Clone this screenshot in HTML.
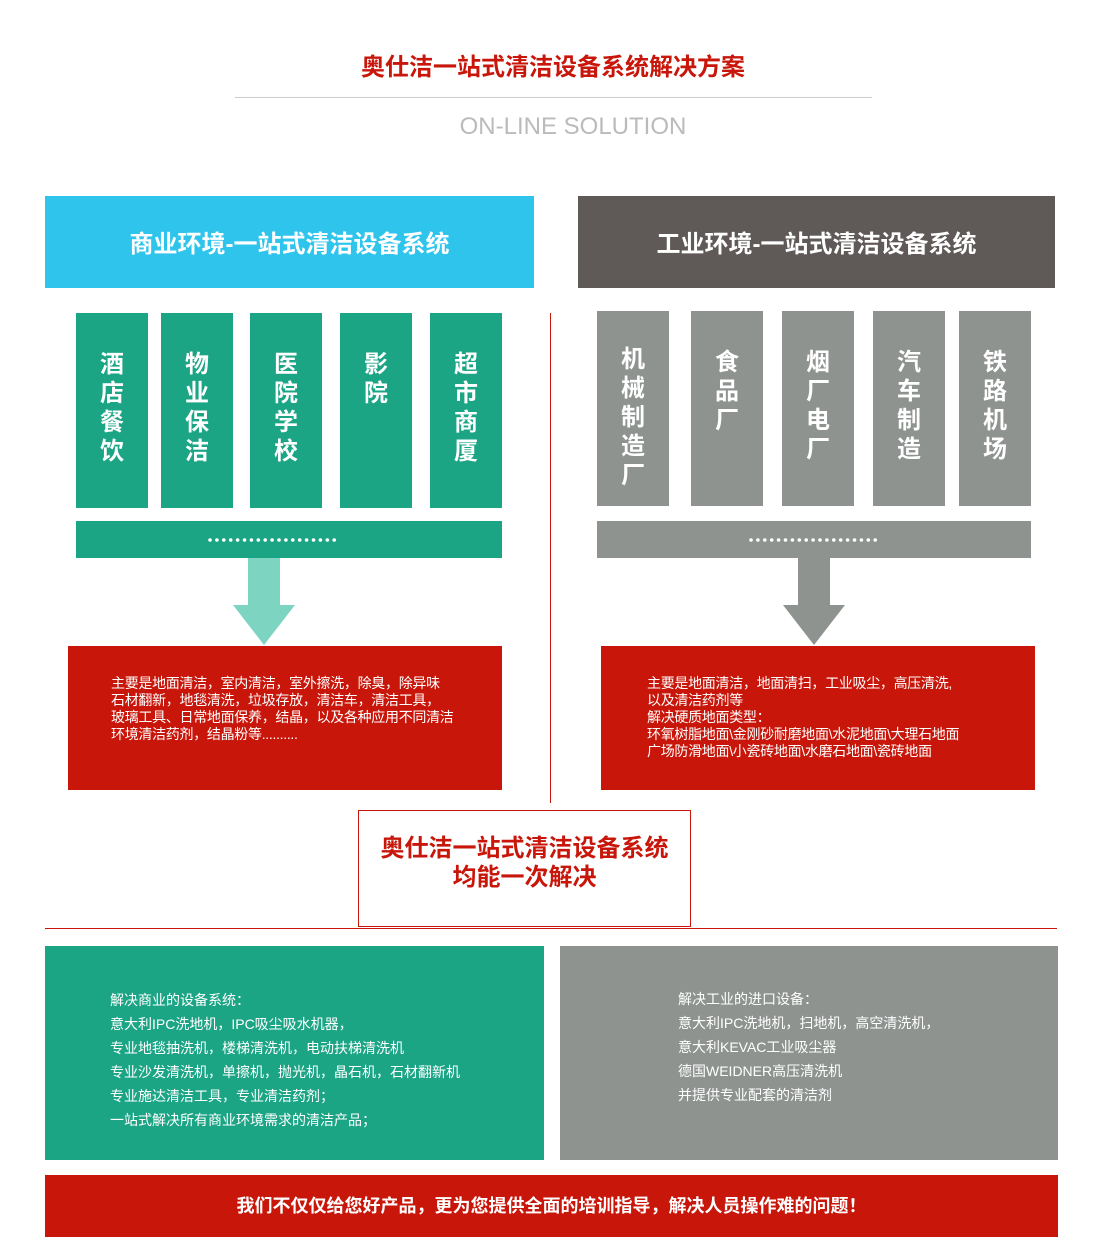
<!DOCTYPE html>
<html><head><meta charset="utf-8"><style>
*{margin:0;padding:0;box-sizing:border-box}
body{width:1113px;height:1241px;background:#fff;position:relative;font-family:"Liberation Sans","Noto Sans CJK SC",sans-serif;overflow:hidden}
.a{position:absolute}
.col{position:absolute;color:#fff;font-weight:bold;font-size:24px;line-height:29px;text-align:center;padding-top:37px}
.g{background:#1ba585}.gr{background:#8e9390}
.t{color:#fff;font-size:14px;line-height:17px;letter-spacing:-0.3px}
.b{color:#fff;font-size:14px;line-height:24px}
</style></head><body>
<div class="a" style="left:0;width:1106px;top:53px;text-align:center;color:#c8160a;font-weight:bold;font-size:24px;line-height:30px">奥仕洁一站式清洁设备系统解决方案</div>
<div class="a" style="left:235px;width:637px;top:97px;height:1px;background:#ccc"></div>
<div class="a" style="left:0;width:1146px;top:113px;text-align:center;color:#bbb;font-size:24px;line-height:28px">ON-LINE SOLUTION</div>

<div class="a" style="left:45px;top:196px;width:489px;height:92px;background:#2fc4ec;color:#fff;font-weight:bold;font-size:24px;line-height:98px;text-align:center">商业环境-一站式清洁设备系统</div>
<div class="a" style="left:578px;top:196px;width:477px;height:92px;background:#5f5958;color:#fff;font-weight:bold;font-size:24px;line-height:98px;text-align:center">工业环境-一站式清洁设备系统</div>

<div class="col g" style="left:76px;top:313px;width:72px;height:195px">酒<br>店<br>餐<br>饮</div>
<div class="col g" style="left:161px;top:313px;width:72px;height:195px">物<br>业<br>保<br>洁</div>
<div class="col g" style="left:250px;top:313px;width:72px;height:195px">医<br>院<br>学<br>校</div>
<div class="col g" style="left:340px;top:313px;width:72px;height:195px;padding-left:-4px">影<br>院</div>
<div class="col g" style="left:430px;top:313px;width:72px;height:195px">超<br>市<br>商<br>厦</div>
<div class="a g" style="left:76px;top:521px;width:426px;height:37px"></div>

<div class="col gr" style="left:597px;top:311px;width:72px;height:195px;padding-top:34px">机<br>械<br>制<br>造<br>厂</div>
<div class="col gr" style="left:691px;top:311px;width:72px;height:195px">食<br>品<br>厂</div>
<div class="col gr" style="left:782px;top:311px;width:72px;height:195px">烟<br>厂<br>电<br>厂</div>
<div class="col gr" style="left:873px;top:311px;width:72px;height:195px">汽<br>车<br>制<br>造</div>
<div class="col gr" style="left:959px;top:311px;width:72px;height:195px">铁<br>路<br>机<br>场</div>
<div class="a gr" style="left:597px;top:521px;width:434px;height:37px"></div>

<svg class="a" style="left:0;top:0" width="1113" height="1241">
<polygon points="248,558 280,558 280,605 295,605 264,645 233,605 248,605" fill="#7dd4c0"/>
<polygon points="798,558 830,558 830,605 845,605 814,645 783,605 798,605" fill="#8e9390"/>
<line x1="550.5" y1="313" x2="550.5" y2="803" stroke="#c8160a" stroke-width="1"/>
<line x1="45" y1="928.5" x2="1057" y2="928.5" stroke="#c8160a" stroke-width="1"/>
<g fill="#fff">
<circle cx="210" cy="540" r="1.8"/><circle cx="216.9" cy="540" r="1.8"/><circle cx="223.8" cy="540" r="1.8"/><circle cx="230.7" cy="540" r="1.8"/><circle cx="237.6" cy="540" r="1.8"/><circle cx="244.5" cy="540" r="1.8"/><circle cx="251.4" cy="540" r="1.8"/><circle cx="258.3" cy="540" r="1.8"/><circle cx="265.2" cy="540" r="1.8"/><circle cx="272.1" cy="540" r="1.8"/><circle cx="279" cy="540" r="1.8"/><circle cx="285.9" cy="540" r="1.8"/><circle cx="292.8" cy="540" r="1.8"/><circle cx="299.7" cy="540" r="1.8"/><circle cx="306.6" cy="540" r="1.8"/><circle cx="313.5" cy="540" r="1.8"/><circle cx="320.4" cy="540" r="1.8"/><circle cx="327.3" cy="540" r="1.8"/><circle cx="334.2" cy="540" r="1.8"/>
<circle cx="751" cy="540" r="1.8"/><circle cx="757.9" cy="540" r="1.8"/><circle cx="764.8" cy="540" r="1.8"/><circle cx="771.7" cy="540" r="1.8"/><circle cx="778.6" cy="540" r="1.8"/><circle cx="785.5" cy="540" r="1.8"/><circle cx="792.4" cy="540" r="1.8"/><circle cx="799.3" cy="540" r="1.8"/><circle cx="806.2" cy="540" r="1.8"/><circle cx="813.1" cy="540" r="1.8"/><circle cx="820" cy="540" r="1.8"/><circle cx="826.9" cy="540" r="1.8"/><circle cx="833.8" cy="540" r="1.8"/><circle cx="840.7" cy="540" r="1.8"/><circle cx="847.6" cy="540" r="1.8"/><circle cx="854.5" cy="540" r="1.8"/><circle cx="861.4" cy="540" r="1.8"/><circle cx="868.3" cy="540" r="1.8"/><circle cx="875.2" cy="540" r="1.8"/>
</g>
</svg>

<div class="a" style="left:68px;top:646px;width:434px;height:144px;background:#c8160a"></div>
<div class="a t" style="left:111px;top:675px">主要是地面清洁，室内清洁，室外擦洗，除臭，除异味<br>石材翻新，地毯清洗，垃圾存放，清洁车，清洁工具，<br>玻璃工具、日常地面保养，结晶，以及各种应用不同清洁<br>环境清洁药剂，结晶粉等..........</div>
<div class="a" style="left:601px;top:646px;width:434px;height:144px;background:#c8160a"></div>
<div class="a t" style="left:647px;top:675px">主要是地面清洁，地面清扫，工业吸尘，高压清洗,<br>以及清洁药剂等<br>解决硬质地面类型：<br>环氧树脂地面\金刚砂耐磨地面\水泥地面\大理石地面<br>广场防滑地面\小瓷砖地面\水磨石地面\瓷砖地面</div>

<div class="a" style="left:358px;top:810px;width:333px;height:117px;border:1px solid #c8160a;background:#fff;color:#c8160a;font-weight:bold;font-size:24px;line-height:29px;text-align:center;padding-top:23px">奥仕洁一站式清洁设备系统<br>均能一次解决</div>

<div class="a g" style="left:45px;top:946px;width:499px;height:214px"></div>
<div class="a b" style="left:110px;top:988px">解决商业的设备系统：<br>意大利IPC洗地机，IPC吸尘吸水机器，<br>专业地毯抽洗机，楼梯清洗机，电动扶梯清洗机<br>专业沙发清洗机，单擦机，抛光机，晶石机，石材翻新机<br>专业施达清洁工具，专业清洁药剂；<br>一站式解决所有商业环境需求的清洁产品；</div>
<div class="a gr" style="left:560px;top:946px;width:498px;height:214px"></div>
<div class="a b" style="left:678px;top:987px">解决工业的进口设备：<br>意大利IPC洗地机，扫地机，高空清洗机，<br>意大利KEVAC工业吸尘器<br>德国WEIDNER高压清洗机<br>并提供专业配套的清洁剂</div>

<div class="a" style="left:45px;top:1175px;width:1013px;height:62px;background:#c8160a;color:#fff;font-weight:bold;font-size:18px;line-height:62px;text-align:center">我们不仅仅给您好产品，更为您提供全面的培训指导，解决人员操作难的问题！</div>
</body></html>
